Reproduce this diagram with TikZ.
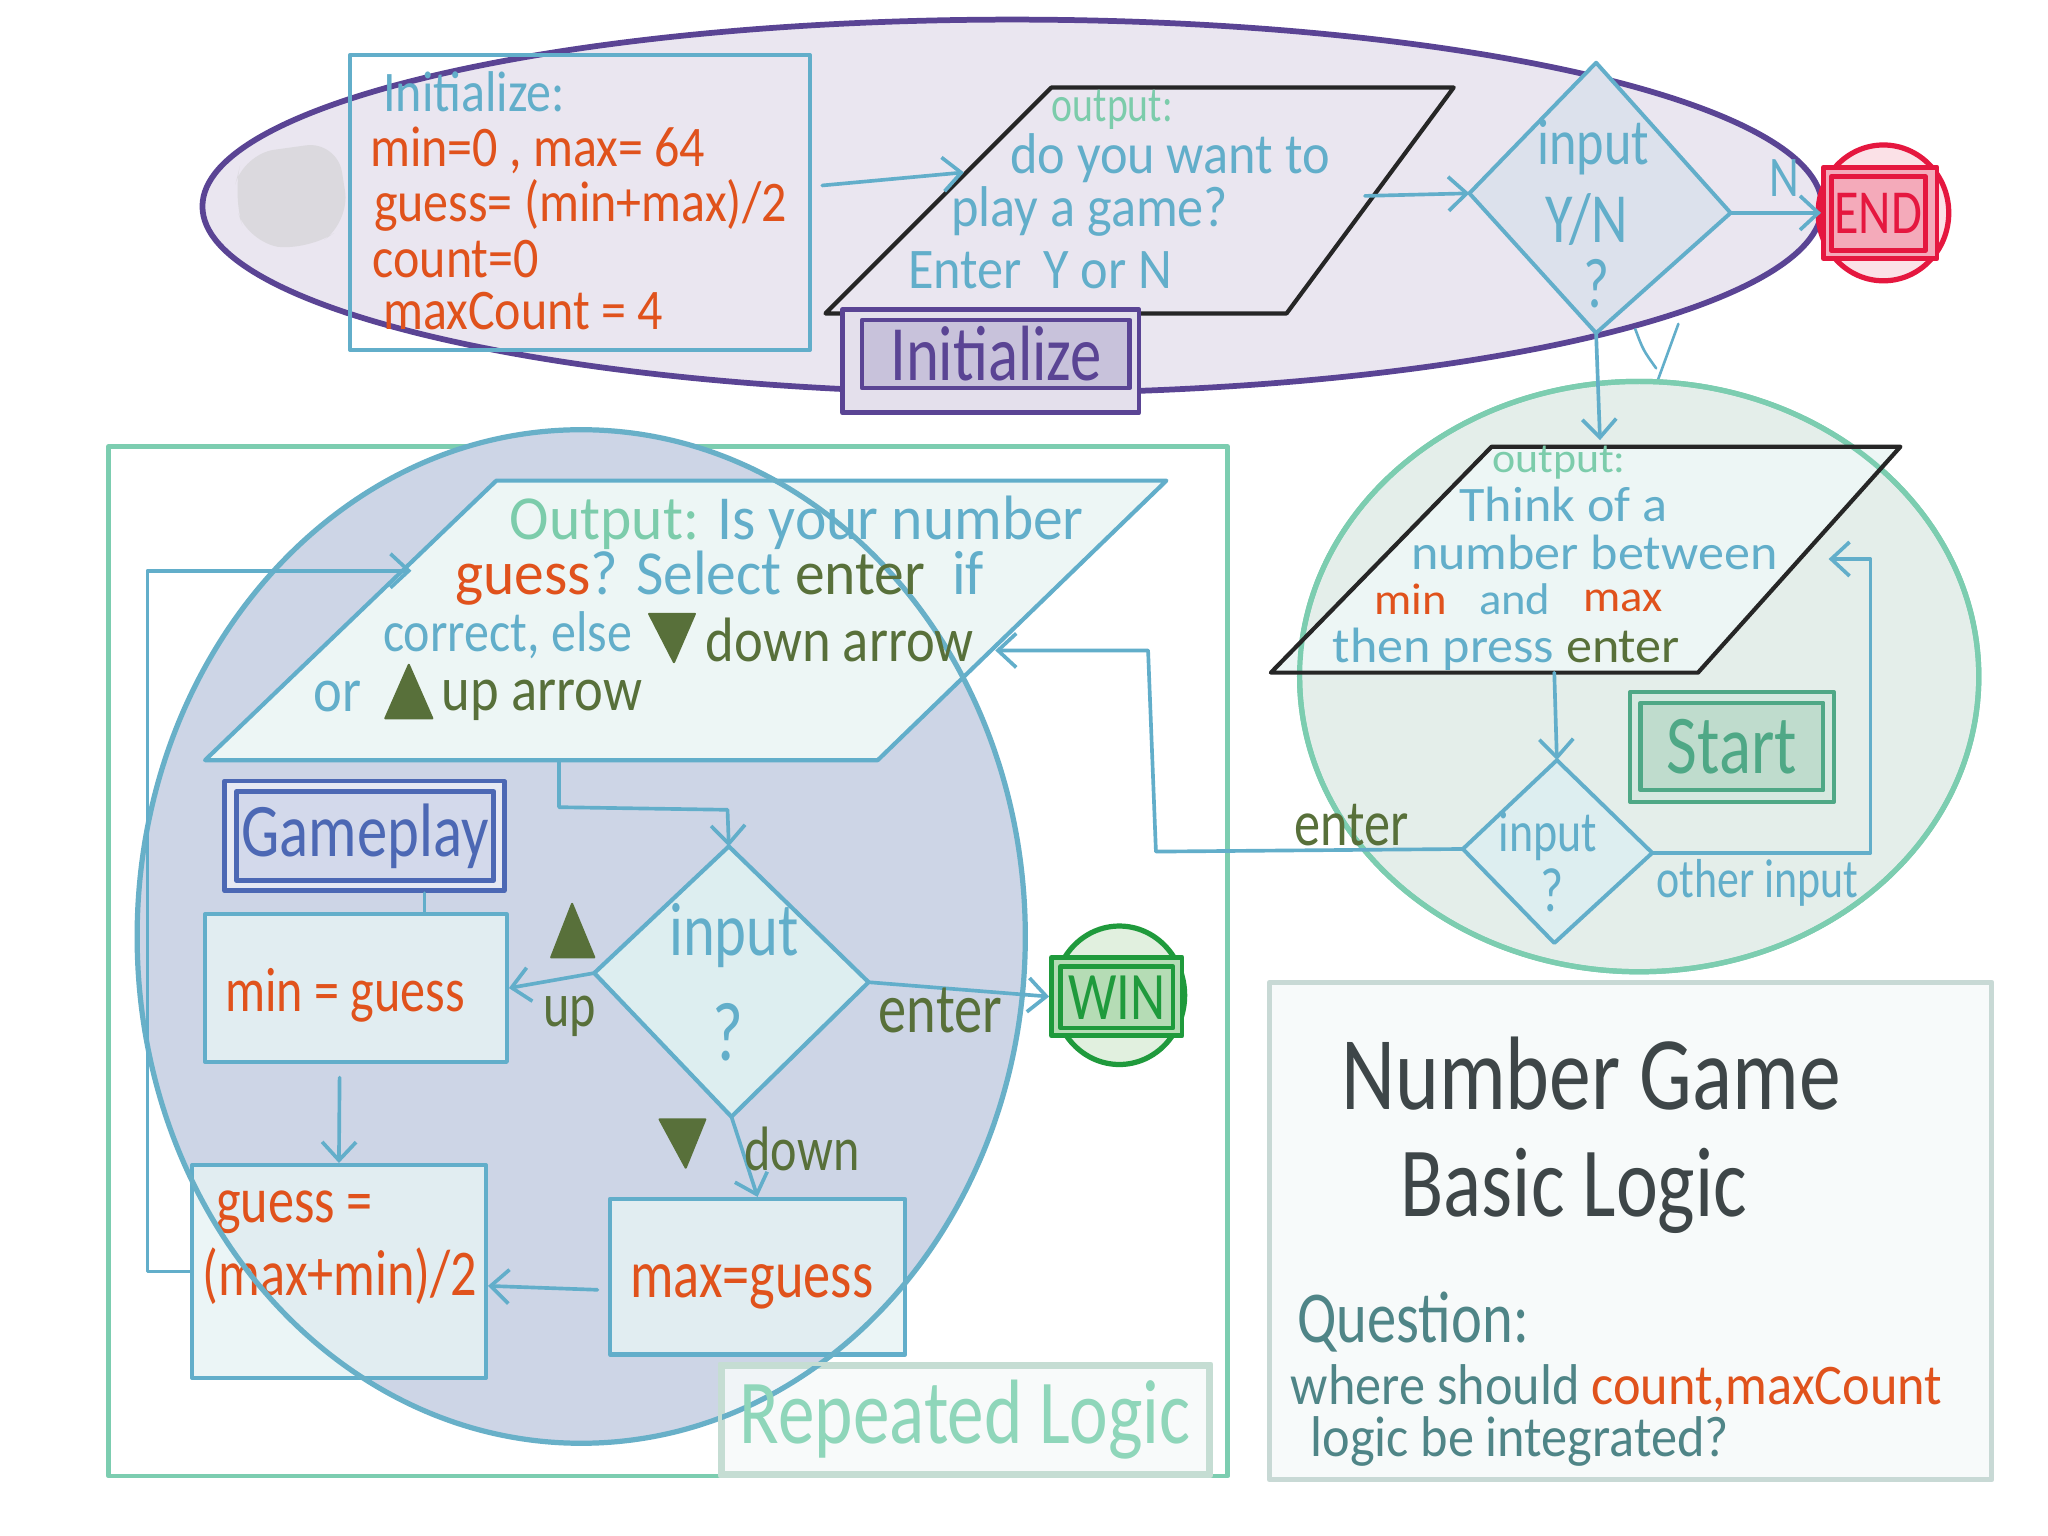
\documentclass[tikz,border=0pt]{standalone}
\usepackage{fontspec}
\setmainfont{Carlito}[FakeStretch=0.8]
\newfontfamily\fmid{Carlito}[FakeStretch=0.87]
\newfontfamily\fwide{Carlito}[FakeStretch=0.91]
\newfontfamily\fwd{Carlito}[FakeStretch=0.95]
\newfontfamily\fxw{Carlito}[FakeStretch=1.05]
\usetikzlibrary{arrows.meta}
\definecolor{skyb}{HTML}{62AECA}
\definecolor{orng}{HTML}{E0521C}
\definecolor{mint}{HTML}{7CCCAB}
\definecolor{olive}{HTML}{58703A}
\definecolor{purp}{HTML}{5A4494}
\definecolor{lav}{HTML}{EAE6F0}
\definecolor{lavbox}{HTML}{C8C2DB}
\definecolor{lavout}{HTML}{E4E0EC}
\definecolor{dia}{HTML}{DCE1EC}
\definecolor{endred}{HTML}{E5173F}
\definecolor{endfill}{HTML}{FBE1E7}
\definecolor{endbox}{HTML}{F4AABA}
\definecolor{ring}{HTML}{7CCDB0}
\definecolor{ringfill}{HTML}{E4EEEA}
\definecolor{parfill}{HTML}{EDF6F5}
\definecolor{cyanbox}{HTML}{DDEEF0}
\definecolor{startg}{HTML}{4FA886}
\definecolor{startbox}{HTML}{BFDCCD}
\definecolor{startout}{HTML}{D6E9E0}
\definecolor{bigblue}{HTML}{CDD5E6}
\definecolor{bigline}{HTML}{68B0C8}
\definecolor{gameb}{HTML}{4C68B4}
\definecolor{gamein}{HTML}{D3D9EB}
\definecolor{gameout}{HTML}{E6E9F3}
\definecolor{wing}{HTML}{1F9A3C}
\definecolor{winfill}{HTML}{E1F0DF}
\definecolor{winbox}{HTML}{B5DCB5}
\definecolor{replab}{HTML}{8FD6BA}
\definecolor{repline}{HTML}{C5DDD3}
\definecolor{titleline}{HTML}{C8D9D5}
\definecolor{titlefill}{HTML}{F7FAFA}
\definecolor{ink}{HTML}{3E4648}
\definecolor{qteal}{HTML}{4F8587}
\definecolor{smudge}{HTML}{DBD9DE}
\newcommand\fz[1]{\fontsize{#1}{#1}\selectfont}
\begin{document}
\begin{tikzpicture}[x=0.5pt,y=-0.5pt,
  line cap=round, line join=round,
  arr/.style={-{Straight Barb[length=7pt,width=13pt]}, line width=1.4pt, skyb},
  wire/.style={line width=1.4pt, skyb},
  lbl/.style={inner sep=0pt, anchor=west},
  ctr/.style={inner sep=0pt, anchor=center},
  tri/.style={fill=olive, draw=olive, line width=0.8pt}]
\useasboundingbox (0,0) rectangle (1568,1176);
\fill[white] (0,0) rectangle (1568,1176);

% ---------- setup phase ----------
\draw[purp, line width=2.2pt, fill=lav] (775,158) ellipse [x radius=310pt, y radius=71.5pt];
\fill[smudge, rounded corners=12pt] (186,118) -- (258,108) -- (268,170) -- (236,192) -- (190,186) -- (178,150) -- cycle;

\node[draw=skyb, line width=1.5pt, minimum width=176pt, minimum height=113pt, inner sep=0pt] (initbox) at (444,155) {};
\node[lbl, text=skyb, font=\fmid\fz{22}] (initT) at (293,70) {Initialize:};
\node[lbl, text=orng, font=\fmid\fz{22}] (initA) at (283,115) {min=0 , max= 64};
\node[lbl, text=orng, font=\fmid\fz{22}] (initB) at (286,157) {guess= (min+max)/2};
\node[lbl, text=orng, font=\fmid\fz{22}] (initC) at (285,198) {count=0};
\node[lbl, text=orng, font=\fmid\fz{22}] (initD) at (293,238) {maxCount = 4};

% prompt: play a game?
\coordinate (pA) at (632,240); \coordinate (pB) at (805,67);
\coordinate (pC) at (1113,67); \coordinate (pD) at (985,240);
\coordinate (pIn) at (738,132); \coordinate (pOut) at (1045,150);
\draw[black!85, line width=1.6pt] (pA) -- (pB) -- (pC) -- (pD) -- cycle;
\node[lbl, text=mint, font=\fz{19}] (pT0) at (805,84) {output:};
\node[lbl, text=skyb, font=\fwide\fz{22}] (pT1) at (773,121) {do you want to};
\node[lbl, text=skyb, font=\fwide\fz{22}] (pT2) at (728,162) {play a game?};
\node[lbl, text=skyb, font=\fwide\fz{22}] (pT3) at (695,207) {Enter \,Y or N};

% phase label
\node[draw=purp, line width=1.8pt, fill=lavout, minimum width=113.5pt, minimum height=39.5pt, inner sep=0pt] (initLblO) at (758.5,276.5) {};
\node[draw=purp, line width=1.8pt, fill=lavbox, minimum width=102.5pt, minimum height=26pt, inner sep=0pt, text=purp, font=\fz{30}] (initLbl) at (762.5,271) {Initialize};

% decision Y/N
\coordinate (d1t) at (1222,48); \coordinate (d1r) at (1325,163);
\coordinate (d1b) at (1222,255); \coordinate (d1l) at (1125,148);
\draw[skyb, line width=1.5pt, fill=dia] (d1t) -- (d1r) -- (d1b) -- (d1l) -- cycle;
\node[ctr, text=skyb, font=\fz{25}] (d1a) at (1220,113) {input};
\node[ctr, text=skyb, font=\fz{27}] (d1b2) at (1215,168) {Y/N};
\node[ctr, text=skyb, font=\fz{27}] (d1c) at (1222,217) {?};

% end
\draw[endred, line width=2pt, fill=endfill] (1442,163) ellipse [x radius=25pt, y radius=26pt];
\node[draw=endred, line width=1.8pt, fill=endbox, minimum width=43.5pt, minimum height=35pt, inner sep=0pt] (endO) at (1439.5,163) {};
\node[draw=endred, line width=1.8pt, minimum width=36pt, minimum height=28.5pt, inner sep=0pt, text=endred, font=\fz{24}] (endN) at (1438,163.5) {END};

% connectors of the setup phase
\draw[arr] (initbox.east) ++(8,-13) -- (pIn);
\draw[arr] (pOut) -- (d1l);
\draw[arr] (d1r) -- (endO.west);
\node[ctr, text=skyb, font=\fz{22}] (nLbl) at (1366,136) {N};
\draw[skyb, line width=1pt] (1252,252) .. controls (1258,268) .. (1268,282);
\draw[skyb, line width=1pt] (1285,248) -- (1266,300);

% ---------- start phase ----------
\draw[ring, line width=2pt, fill=ringfill] (1255,518) ellipse [x radius=130pt, y radius=113pt];
\coordinate (qA) at (973,515); \coordinate (qB) at (1142,342);
\coordinate (qC) at (1455,342); \coordinate (qD) at (1300,515);
\coordinate (qTop) at (1225,337); \coordinate (qOut) at (1190,515);
\coordinate (qIn) at (1400,428);
\fill[parfill] (qA) -- (qB) -- (qC) -- (qD) -- cycle;
\draw[ring, line width=2pt] (1255,518) ellipse [x radius=130pt, y radius=113pt];
\draw[black!85, line width=1.6pt] (qA) -- (qB) -- (qC) -- (qD) -- cycle;
\node[lbl, text=mint, font=\fxw\fz{16}] (qT0) at (1142,354) {output:};
\node[lbl, text=skyb, font=\fxw\fz{19}] (qT1) at (1117,386) {Think of a};
\node[lbl, text=skyb, font=\fxw\fz{19}] (qT2) at (1080,423) {number between};
\node[lbl, text=orng, font=\fxw\fz{17}] (qT3a) at (1052,459) {min};
\node[lbl, text=skyb, font=\fxw\fz{17}] (qT3b) at (1132,459) {and};
\node[lbl, text=orng, font=\fxw\fz{17}] (qT3c) at (1212,460) {max};
\node[lbl, text=skyb, font=\fxw\fz{19}] (qT4) at (1020,497) {then press \textcolor{olive}{enter}};

\coordinate (d2t) at (1192,582); \coordinate (d2r) at (1265,653);
\coordinate (d2b) at (1190,722); \coordinate (d2l) at (1120,650);
\draw[skyb, line width=1.5pt, fill=cyanbox] (d2t) -- (d2r) -- (d2b) -- (d2l) -- cycle;
\node[ctr, text=skyb, font=\fz{22}] (d2a) at (1185,640) {input};
\node[ctr, text=skyb, font=\fz{24}] (d2c) at (1188,682) {?};

\node[draw=startg, line width=1.6pt, fill=startout, minimum width=78pt, minimum height=42pt, inner sep=0pt] (startO) at (1326,572) {};
\node[draw=startg, line width=1.6pt, fill=startbox, minimum width=70pt, minimum height=33.5pt, inner sep=0pt, text=startg, font=\fz{32}] (startN) at (1326,571.5) {Start};

\draw[arr] (d1b) -- (qTop);
\draw[arr] (qOut) -- (d2t);
\draw[arr] (d2r) -- (1432,653) -- (1432,428) -- (qIn);
\node[lbl, text=skyb, font=\fz{21}] (otherL) at (1268,676) {other input};

% ---------- repeated logic ----------
\draw[ring, line width=1.8pt] (83,342) rectangle (940,1130);
\draw[fill=bigblue, draw=none] (445,717) ellipse [x radius=170pt, y radius=194pt];

\node[draw=repline, line width=1.8pt, fill=titlefill, fill opacity=0.85, draw opacity=1, minimum width=186pt, minimum height=41pt, inner sep=0pt] (repBox) at (739,1087) {};

\coordinate (rA) at (157,582); \coordinate (rB) at (380,368);
\coordinate (rC) at (893,368); \coordinate (rD) at (672,582);
\coordinate (rIn) at (315,437); \coordinate (rInR) at (762,498);
\coordinate (rOut) at (428,582);
\draw[skyb, line width=1.6pt, fill=parfill] (rA) -- (rB) -- (rC) -- (rD) -- cycle;

\node[draw=gameb, line width=1.8pt, fill=gameout, minimum width=107pt, minimum height=42pt, inner sep=0pt] (gameO) at (279,640) {};
\node[draw=gameb, line width=1.8pt, fill=gamein, minimum width=98.5pt, minimum height=34pt, inner sep=0pt, text=gameb, font=\fz{29}] (gameN) at (279.5,640) {Gameplay};

\tikzset{cbox/.style={draw=skyb, line width=1.6pt, fill=cyanbox!70!white, fill opacity=0.8, text opacity=1, inner sep=0pt}}
\node[cbox, minimum width=115.5pt, minimum height=56.5pt] (minBox) at (272.5,756.5) {};
\node[lbl, text=orng, font=\fz{24}] (minT) at (172,762) {min = guess};
\node[cbox, minimum width=112.5pt, minimum height=81.5pt] (gBox) at (259.5,973.5) {};
\node[lbl, text=orng, font=\fz{25}] (gT1) at (165,928) {guess =};
\node[lbl, text=orng, font=\fz{25}] (gT2) at (155,977) {(max+min)/2};
\node[cbox, minimum width=113pt, minimum height=59.5pt] (maxBox) at (580,977.5) {};
\node[lbl, text=orng, font=\fz{26}] (maxT) at (482,985) {max=guess};

\coordinate (d3t) at (558,648); \coordinate (d3r) at (665,752);
\coordinate (d3b) at (560,855); \coordinate (d3l) at (455,745);
\draw[skyb, line width=1.6pt, fill=cyanbox] (d3t) -- (d3r) -- (d3b) -- (d3l) -- cycle;
\node[ctr, text=skyb, font=\fz{29}] (d3a) at (562,716) {input};
\node[ctr, text=skyb, font=\fz{32}] (d3c) at (557,790) {?};

% outline of the repeated block drawn over its contents
\draw[bigline, line width=2pt] (445,717) ellipse [x radius=170pt, y radius=194pt];
\draw[repline, line width=1.8pt] (repBox.north west) rectangle (repBox.south east);
\node[ctr, text=replab, font=\fz{35}] (repT) at (739,1087) {Repeated Logic};

% question text
\node[lbl, text=skyb, font=\fwd\fz{24}] (rT1) at (390,400) {\textcolor{mint}{Output:} Is your number};
\node[lbl, text=skyb, font=\fwd\fz{24}] (rT2) at (348,443) {\textcolor{orng}{guess}? Select \textcolor{olive}{enter} \ if};
\node[lbl, text=skyb, font=\fmid\fz{22}] (rT3) at (293,486) {correct, else};
\node[lbl, text=olive, font=\fmid\fz{24}] (rT3b) at (540,490) {down arrow};
\node[lbl, text=skyb, font=\fmid\fz{24}] (rT4) at (240,533) {or};
\node[lbl, text=olive, font=\fmid\fz{24}] (rT4b) at (338,536) {up arrow};
\draw[tri] (497,470) -- (532,470) -- (516,507) -- cycle;
\draw[tri] (313,509) -- (331,550) -- (295,550) -- cycle;

% win
\draw[wing, line width=2pt, fill=winfill] (857,762) ellipse [x radius=25pt, y radius=26.5pt];
\node[draw=wing, line width=1.8pt, fill=winbox, minimum width=50pt, minimum height=30pt, inner sep=0pt] (winO) at (855,763) {};
\node[draw=wing, line width=1.8pt, minimum width=43pt, minimum height=23.5pt, inner sep=0pt, text=wing, font=\fz{26}] (winN) at (855,763.5) {WIN};

% connectors of the repeated block
\draw[arr] (rOut) -- (428,618) -- (557,620) -- (d3t);
\draw[arr] (d3l) -- (minBox.east);
\draw[tri] (438,692) -- (455,733) -- (422,733) -- cycle;
\node[ctr, text=olive, font=\fz{24}] (upL) at (436,778) {up};
\draw[arr] (d3b) -- (maxBox.north);
\draw[tri] (505,857) -- (540,857) -- (525,894) -- cycle;
\node[ctr, text=olive, font=\fz{24}] (downL) at (614,880) {down};
\draw[arr] (d3r) -- (winO.west);
\node[ctr, text=olive, font=\fz{27}] (enterL) at (720,774) {enter};
\draw[wire] (gameO.south -| 325,0) -- (minBox.north -| 325,0);
\draw[arr] (260,825) -- (gBox.north);
\draw[arr] (maxBox.west) ++(-8,10) -- ([yshift=-5.5pt]gBox.east);
\draw[arr] (gBox.west) -| (113,437) -- (rIn);
\draw[arr] (d2l) -- (885,652) -- (879,498) -- (rInR);
\node[ctr, text=olive, font=\fz{25}] (enterR) at (1035,632) {enter};

% ---------- title card ----------
\draw[titleline, line width=2pt, fill=titlefill] (972,752) rectangle (1525,1133);
\node[ctr, text=ink, font=\fz{40}] (titleA) at (1218,822) {Number Game};
\node[ctr, text=ink, font=\fz{38}] (titleB) at (1205,912) {Basic Logic};
\node[lbl, text=qteal, font=\fz{28}] (qL) at (993,1012) {Question:};
\node[lbl, text=qteal, font=\fwide\fz{22}] (qL1) at (988,1063) {where should \textcolor{orng}{count,maxCount}};
\node[lbl, text=qteal, font=\fwide\fz{22}] (qL2) at (1003,1104) {logic be integrated?};
\end{tikzpicture}
\end{document}
